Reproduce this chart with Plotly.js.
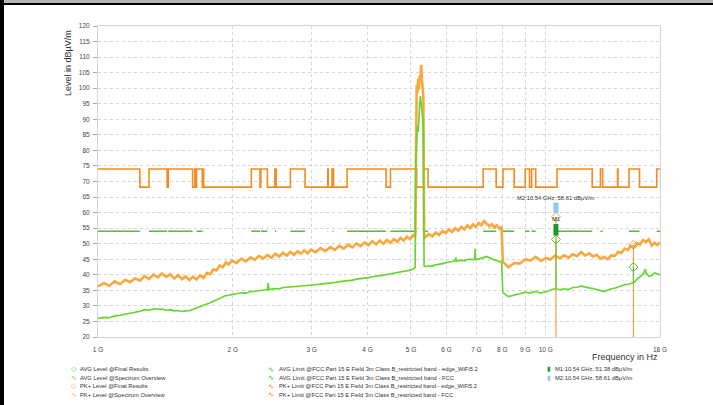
<!DOCTYPE html>
<html>
<head>
<meta charset="utf-8">
<script src="https://cdn.plot.ly/plotly-3.0.1.min.js"></script>
<style>
html,body{margin:0;padding:0;background:#fff;overflow:hidden;}
#wrap{position:relative;width:713px;height:405px;}
#chart{position:absolute;left:0;top:0;width:713px;height:405px;}
.bar{position:absolute;}
</style>
</head>
<body>
<div id="wrap">
<div id="chart"></div>
<div class="bar" style="left:0;top:0;width:713px;height:3px;background:#b4b4b4;"></div>
<div class="bar" style="left:0;top:3px;width:713px;height:2px;background:#000;"></div>
<div class="bar" style="left:0;top:0;width:4px;height:405px;background:#000;"></div>
</div>
<script>
// ---------- data (frequencies in GHz, levels in dBµV/m) ----------
const tickVals = [1,2,3,4,5,6,7,8,9,10,18];
const tickText = ["1 G","2 G","3 G","4 G","5 G","6 G","7 G","8 G","9 G","10 G","18 G"];

// FCC 15.205 restricted bands (GHz)
const bandStart = [0.96,1.3,1.435,1.6455,1.66,1.7188,2.2,2.31,2.4835,2.69,3.26,3.332,3.3458,3.6,4.5,5.35,7.25,8.025,9.0,9.3,10.6,13.25,14.47,15.35,17.7];
const bandEnd   = [1.24,1.427,1.6265,1.6465,1.71,1.7222,2.3,2.39,2.5,2.9,3.267,3.339,3.358,4.4,5.15,5.46,7.75,8.5,9.2,9.5,12.7,13.4,14.5,16.2,21.4];
const pkLimitIn = 74, pkLimitOut = 68.2, avgLimitIn = 54;
const fMin = 1, fMax = 18;

// PK+ Level @Spectrum Overview
const pkFreq = [
1.00,1.03,1.06,1.09,1.12,1.15,1.18,1.21,1.24,1.27,1.30,1.33,1.36,1.39,1.42,1.45,1.48,1.51,1.54,1.57,1.60,1.63,1.66,1.69,1.72,1.75,1.78,1.81,1.84,1.87,1.90,1.93,1.96,1.99,
2.04,2.09,2.14,2.19,2.24,2.29,2.34,2.39,2.44,2.49,2.54,2.59,2.64,2.69,2.74,2.79,2.84,2.89,2.94,2.99,
3.06,3.14,3.22,3.30,3.38,3.46,3.54,3.62,3.70,3.78,3.86,3.94,4.02,4.10,4.18,4.26,4.34,4.42,4.50,4.58,4.66,4.74,4.82,4.90,4.98,5.05,5.11,
5.13,5.15,5.17,5.19,5.21,5.23,5.25,5.27,5.29,5.31,5.33,5.35,
5.38,5.48,5.58,5.68,5.78,5.88,5.98,6.08,6.18,6.28,6.38,6.48,6.58,6.68,6.78,6.88,6.98,7.08,7.18,7.28,7.38,7.48,7.58,7.68,7.78,7.88,7.97,
8.02,8.25,8.5,8.75,9.0,9.25,9.5,9.75,10.0,10.25,10.5,10.75,11.0,11.25,11.5,11.75,12.0,12.25,12.5,12.75,13.0,13.25,13.5,13.75,14.0,14.25,14.5,14.75,15.0,15.25,15.5,15.75,16.0,16.25,16.5,16.75,17.0,17.25,17.5,17.75,18.0];
const pkLevel = [
36.2,37.4,36.5,37.9,37.0,38.4,37.6,38.9,38.1,39.6,38.6,40.1,39.2,40.4,39.3,40.2,38.8,39.9,38.6,39.5,38.3,39.4,38.5,39.8,39.0,40.6,40.2,41.8,41.5,43.0,42.4,44.0,43.3,44.6,
43.8,45.2,44.3,45.6,44.8,46.1,45.2,46.4,45.5,46.8,45.9,47.1,46.2,47.4,46.4,47.6,46.8,47.9,46.9,48.1,
47.3,48.6,47.6,48.9,48.0,49.3,48.4,49.7,48.8,50.1,49.2,50.4,49.5,50.8,49.8,51.0,50.0,51.2,50.3,51.5,50.6,51.9,51.0,52.3,51.4,52.7,52.2,
96,101,98.5,103,99.5,104,102,107.5,103,100,97,53.0,
52.0,53.1,52.4,53.6,52.8,54.1,53.4,54.6,53.8,55.0,54.2,55.4,54.6,55.9,55.0,56.2,55.4,56.7,55.9,57.3,56.6,55.6,56.3,55.2,55.9,54.8,55.5,
44.2,42.4,43.8,43.6,45.0,44.6,45.8,44.5,45.4,44.9,46.2,45.3,46.3,45.5,46.6,46.0,47.3,46.2,46.9,45.9,46.4,45.2,45.8,45.0,46.2,46.0,47.3,47.0,48.4,48.0,49.3,48.9,50.2,49.8,51.2,50.6,51.4,49.4,50.3,49.6,50.4];

// AVG Level @Spectrum Overview
const avgFreq = [
1.00,1.03,1.06,1.09,1.12,1.15,1.18,1.21,1.24,1.27,1.30,1.33,1.36,1.39,1.42,1.45,1.48,1.51,1.54,1.57,1.60,1.63,1.66,1.69,1.72,1.75,1.78,1.81,1.84,1.87,1.90,1.93,1.96,1.99,
2.04,2.09,2.14,2.19,2.24,2.29,2.34,2.39,2.40,2.41,2.44,2.49,2.54,2.59,2.64,2.69,2.74,2.79,2.84,2.89,2.94,2.99,
3.06,3.14,3.22,3.30,3.38,3.46,3.54,3.62,3.70,3.78,3.86,3.94,4.02,4.10,4.18,4.26,4.34,4.42,4.50,4.58,4.66,4.74,4.82,4.90,4.98,5.05,5.11,
5.13,5.15,5.17,5.19,5.21,5.23,5.25,5.27,5.29,5.31,5.33,5.35,
5.38,5.48,5.58,5.68,5.78,5.88,5.98,6.08,6.18,6.28,6.30,6.32,6.38,6.48,6.58,6.68,6.78,6.88,6.94,6.95,6.96,6.98,7.08,7.18,7.28,7.38,7.48,7.58,7.68,7.78,7.88,7.97,
8.02,8.25,8.5,8.75,9.0,9.25,9.5,9.75,10.0,10.25,10.5,10.75,11.0,11.25,11.5,11.75,12.0,12.25,12.5,12.75,13.0,13.25,13.5,13.75,14.0,14.25,14.5,14.75,15.0,15.25,15.5,15.75,16.0,16.25,16.5,16.7,16.75,17.0,17.25,17.5,17.75,18.0];
const avgLevel = [
26.0,26.3,26.2,26.8,27.0,27.3,27.7,28.1,28.3,28.8,28.6,29.1,28.9,29.0,28.6,28.8,28.4,28.5,28.2,28.4,28.5,28.9,29.3,29.8,30.1,30.6,31.0,31.5,31.9,32.5,32.9,33.3,33.4,33.7,
33.9,34.2,34.1,34.6,34.7,34.9,35.0,35.3,37.4,35.2,35.4,35.6,35.5,35.9,36.0,36.1,36.0,36.3,36.4,36.5,36.4,36.7,
36.8,37.0,37.1,37.4,37.5,37.8,37.9,38.2,38.3,38.6,38.7,39.0,39.1,39.4,39.5,39.7,39.9,40.1,40.3,40.5,40.8,40.9,41.1,41.2,41.5,41.8,42.4,
78,84,88,86,92,95,97.5,96,93,90,86,42.8,
42.6,42.9,42.8,43.2,43.3,43.6,43.9,44.0,44.3,44.5,45.6,44.4,44.6,44.7,44.5,44.9,45.0,44.8,44.9,48.4,45.0,45.1,45.0,45.4,45.6,45.9,45.5,45.2,44.8,44.6,44.2,44.3,
34.3,33.0,33.4,33.9,34.4,34.2,34.7,34.1,34.5,35.0,35.6,35.2,35.5,35.3,35.9,36.0,36.4,36.0,35.8,35.6,35.2,34.8,34.6,35.0,35.5,35.7,36.1,36.4,36.8,36.9,37.1,37.5,38.6,39.4,40.2,41.8,40.5,39.6,39.8,40.6,40.3,40.0];

// Final results
const pkFinalFreq = [10.54, 15.7];
const pkFinalLevel = [58.61, 49.6];
const avgFinalFreq = [10.54, 15.7];
const avgFinalLevel = [51.38, 42.5];
const avgFinalBase = [35.6, 37.4];
const axisFloor = 20;

// Markers
const markerNames = ["M1", "M2"];
const markerFreq = [10.54, 10.54];
const markerLevel = [51.38, 58.61];
const markerColors = ["#1f9a2b", "#8ccbf0"];

// Legend text
const legendCol1 = ["AVG Level @Final Results","AVG Level @Spectrum Overview","PK+ Level @Final Results","PK+ Level @Spectrum Overview"];
const legendCol2 = ["AVG Limit @FCC Part 15 E Field 3m Class B_restricted band - edge_WiFi5.2","AVG Limit @FCC Part 15 E Field 3m Class B_restricted band - FCC","PK+ Limit @FCC Part 15 E Field 3m Class B_restricted band - edge_WiFi5.2","PK+ Limit @FCC Part 15 E Field 3m Class B_restricted band - FCC"];
const legendCol3 = ["M1:10.54 GHz, 51.38 dBµV/m","M2:10.54 GHz, 58.61 dBµV/m"];

// ---------- colours ----------
const cPkSpec = "#f8a83c", cAvgSpec = "#62d62c", cPkLim = "#f28c22", cAvgLim = "#4fc133";
const cPkFinal = "#eda04a", cAvgFinal = "#58c93a";

// ---------- build limit traces ----------
const pkLimX = [], pkLimY = [], avgLimX = [], avgLimY = [];
for (let i = 0; i < bandStart.length; i++) {
  const s = Math.max(bandStart[i], fMin), e = Math.min(bandEnd[i], fMax);
  if (e <= fMin || s >= fMax) continue;
  pkLimX.push(s); pkLimY.push(pkLimitIn);
  pkLimX.push(e); pkLimY.push(e >= fMax ? pkLimitIn : pkLimitOut);
  avgLimX.push(s, e, null); avgLimY.push(avgLimitIn, avgLimitIn, null);
}
const pkStickX = [], pkStickY = [], avgStickX = [], avgStickY = [];
pkFinalFreq.forEach((f, i) => { pkStickX.push(f, f, null); pkStickY.push(axisFloor, pkFinalLevel[i], null); });
avgFinalFreq.forEach((f, i) => { avgStickX.push(f, f, null); avgStickY.push(avgFinalBase[i], avgFinalLevel[i], null); });

const traces = [
  {x: pkLimX, y: pkLimY, mode: "lines", line: {color: cPkLim, width: 1.6, shape: "hv"}, hoverinfo: "skip"},
  {x: avgLimX, y: avgLimY, mode: "lines", line: {color: cAvgLim, width: 1.6}, connectgaps: false, hoverinfo: "skip"},
  {x: pkFreq, y: pkLevel, mode: "lines", line: {color: cPkSpec, width: 2.6}},
  {x: avgFreq, y: avgLevel, mode: "lines", line: {color: cAvgSpec, width: 1.6}},
  {x: pkStickX, y: pkStickY, mode: "lines", line: {color: cPkFinal, width: 1.2}, connectgaps: false},
  {x: avgStickX, y: avgStickY, mode: "lines", line: {color: cAvgFinal, width: 1.2}, connectgaps: false},
  {x: pkFinalFreq, y: pkFinalLevel, mode: "markers", marker: {symbol: "diamond-open", size: 7, color: cPkFinal, line: {width: 1}}},
  {x: avgFinalFreq, y: avgFinalLevel, mode: "markers", marker: {symbol: "diamond-open", size: 7, color: cAvgFinal, line: {width: 1}}}
];

// ---------- annotations ----------
const px2x = px => (px - 98) / 562;
const py2y = py => (337 - py) / 311;
const FONT = "Liberation Sans, Arial, sans-serif";
const ann = [];
const rowsY = [369, 377.5, 386, 394.5];
const col1Icons = [["◇", cAvgFinal], ["∿", cAvgSpec], ["◇", cPkFinal], ["∿", cPkSpec]];
const col2Icons = [["∿", cAvgLim], ["∿", cAvgLim], ["∿", cPkLim], ["∿", cPkLim]];
legendCol1.forEach((t, i) => {
  ann.push({xref: "paper", yref: "paper", x: px2x(68.5), y: py2y(rowsY[i]), xanchor: "left", yanchor: "middle", showarrow: false, text: col1Icons[i][0], font: {family: "DejaVu Sans", size: 7, color: col1Icons[i][1]}});
  ann.push({xref: "paper", yref: "paper", x: px2x(77.5), y: py2y(rowsY[i]), xanchor: "left", yanchor: "middle", showarrow: false, text: t, font: {family: FONT, size: 5.8, color: "#333"}});
});
legendCol2.forEach((t, i) => {
  ann.push({xref: "paper", yref: "paper", x: px2x(266), y: py2y(rowsY[i]), xanchor: "left", yanchor: "middle", showarrow: false, text: col2Icons[i][0], font: {family: "DejaVu Sans", size: 7.5, color: col2Icons[i][1]}});
  ann.push({xref: "paper", yref: "paper", x: px2x(277), y: py2y(rowsY[i]), xanchor: "left", yanchor: "middle", showarrow: false, text: t, font: {family: FONT, size: 5.8, color: "#333"}});
});
legendCol3.forEach((t, i) => {
  ann.push({xref: "paper", yref: "paper", x: px2x(545), y: py2y(rowsY[i]), xanchor: "left", yanchor: "middle", showarrow: false, text: "▮", font: {family: "DejaVu Sans", size: 6.5, color: markerColors[i]}});
  ann.push({xref: "paper", yref: "paper", x: px2x(553), y: py2y(rowsY[i]), xanchor: "left", yanchor: "middle", showarrow: false, text: t, font: {family: FONT, size: 5.8, color: "#333"}});
});
// marker flags
ann.push({xref: "x", yref: "y", x: Math.log10(markerFreq[1]), y: markerLevel[1], text: legendCol3[1], showarrow: true, arrowhead: 0, arrowwidth: 5, arrowcolor: markerColors[1], ax: 0, ay: -19, standoff: 4, font: {family: FONT, size: 5.8, color: "#333"}});
ann.push({xref: "x", yref: "y", x: Math.log10(markerFreq[0]), y: markerLevel[0], text: markerNames[0], showarrow: true, arrowhead: 0, arrowwidth: 5, arrowcolor: markerColors[0], ax: 0, ay: -20, standoff: 4, font: {family: FONT, size: 5.8, color: "#333"}});
// axis titles
ann.push({xref: "paper", yref: "paper", x: 1, y: py2y(357), xanchor: "right", yanchor: "middle", showarrow: false, text: "Frequency in Hz", font: {family: FONT, size: 9, color: "#333"}});
ann.push({xref: "paper", yref: "paper", x: px2x(68), y: py2y(63), xanchor: "center", yanchor: "middle", textangle: -90, showarrow: false, text: "Level in dBµV/m", font: {family: FONT, size: 9, color: "#333"}});

const layout = {
  width: 713, height: 405,
  margin: {l: 98, r: 53, t: 26, b: 68, pad: 0},
  paper_bgcolor: "#fff", plot_bgcolor: "#fff",
  showlegend: false,
  font: {family: FONT, color: "#444"},
  xaxis: {
    type: "log", range: [Math.log10(fMin), Math.log10(fMax)],
    tickmode: "array", tickvals: tickVals, ticktext: tickText,
    tickfont: {family: FONT, size: 6.5, color: "#444"},
    ticks: "", ticklabelstandoff: 6,
    showgrid: true, gridcolor: "#d6d6d6", griddash: "dot", gridwidth: 1,
    showline: true, linecolor: "#d4d4d4", linewidth: 1, mirror: true, zeroline: false
  },
  yaxis: {
    range: [20, 120], tick0: 20, dtick: 5,
    tickfont: {family: FONT, size: 6.5, color: "#444"},
    ticks: "outside", ticklen: 4, tickcolor: "#aaa", ticklabelstandoff: 2,
    showgrid: true, gridcolor: "#d6d6d6", griddash: "dot", gridwidth: 1,
    showline: true, linecolor: "#d4d4d4", linewidth: 1, mirror: true, zeroline: false
  },
  annotations: ann
};

Plotly.newPlot("chart", traces, layout, {displayModeBar: false, staticPlot: true});
</script>
</body>
</html>
